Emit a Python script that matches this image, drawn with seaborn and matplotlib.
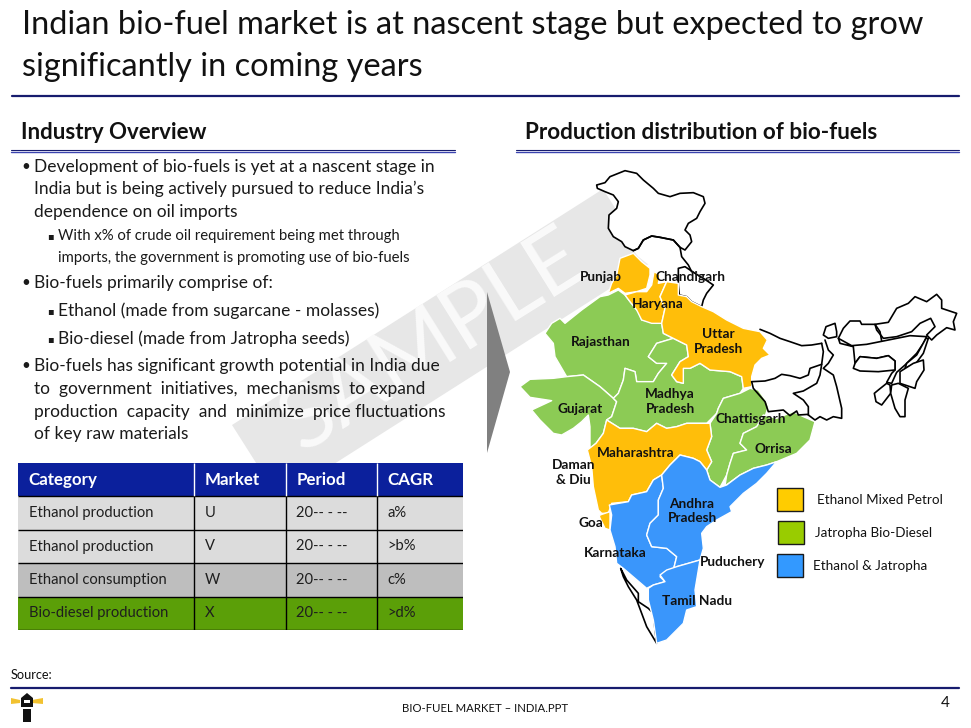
"""Bio-fuel slide: text panel, market table and production map of India."""

import numpy as np
import matplotlib
matplotlib.use("Agg")
import matplotlib.pyplot as plt
import seaborn as sns
from matplotlib.colors import ListedColormap
from matplotlib.patches import Polygon, Rectangle

# --- table ---
TABLE_HEADER = ["Category", "Market", "Period", "CAGR"]
TABLE_CATEGORY = ["Ethanol production", "Ethanol production", "Ethanol consumption", "Bio-diesel production"]
TABLE_MARKET = ["U", "V", "W", "X"]
TABLE_PERIOD = ["20-- - --", "20-- - --", "20-- - --", "20-- - --"]
TABLE_CAGR = ["a%", ">b%", "c%", ">d%"]
ROW_COLORS = ["#0B209C", "#DCDCDC", "#DCDCDC", "#BEBEBE", "#5B9F08"]

# --- map outlines (x right, y down) ---
JK = [(260,75),(285,68),(300,50),(320,42),(345,32),(380,40),(400,60),(430,85),(445,100),(480,110),(510,100),(550,98),(580,110),(585,130),(570,155),(560,175),(535,190),(525,210),(540,225),(545,245),(525,270),(510,262),(490,240),(450,232),(425,228),(400,240),(385,265),(370,272),(345,260),(335,245),(310,230),(295,205),(297,165),(320,145),(325,125),(310,105),(285,95),(262,85)]
HIMACHAL = [(370,272),(385,265),(400,240),(425,228),(450,232),(490,240),(510,262),(515,290),(535,315),(545,335),(505,325),(475,328),(460,335),(435,325),(410,310),(385,290)]
HIMACHAL_TOP = [(370,272),(385,265),(400,240),(425,228),(450,232),(490,240),(510,262),(515,290),(535,315),(545,335)]
UTTARAKHAND = [(505,325),(525,320),(555,340),(580,355),(610,375),(590,400),(580,420),(575,440),(545,425),(530,410),(508,405),(505,375)]
KERALA = [(332,1225),(350,1260),(385,1300),(385,1325),(415,1345),(430,1360),(435,1410),(440,1450),(410,1400),(395,1360),(380,1320),(355,1280),(340,1250)]

# north-east part, traced in a crop that starts at (690, 375) in map units
EAST_ORIGIN = (690, 375)
BIHAR_TOP = [(60,133),(90,145),(120,160),(150,170),(185,182),(215,180),(245,175)]
BIHAR_SOUTH = [(35,290),(75,288),(105,280),(125,268),(150,272),(180,280),(205,270),(210,250),(245,238)]
BENGAL_WEST = [(245,175),(250,200),(245,238),(240,270),(230,295),(190,318),(160,325),(190,345),(205,365),(205,390)]
JHARKHAND_SOUTH = [(35,290),(40,310),(75,350),(85,380),(130,375),(150,392),(170,378),(175,390),(205,388)]
BENGAL_EAST = [(255,165),(265,195),(280,210),(265,235),(250,250),(280,270),(290,305),(305,370),(305,400),(280,395),(260,405),(240,395),(225,405),(205,390)]
SIKKIM = [(250,150),(258,125),(285,115),(290,140),(290,155),(265,160)]
ARUNACHAL = [(405,118),(445,112),(470,70),(505,55),(525,35),(560,50),(590,28),(605,45),(605,70),(650,85),(640,110),(645,135),(620,128),(590,150),(575,165),(560,150),(585,125),(572,100),(540,115),(515,140),(470,155),(430,160),(410,135)]
BHUTAN_SIDE = [(295,160),(310,130),(330,108),(360,108),(365,118),(405,118),(420,140),(425,168)]
ASSAM = [(295,160),(335,182),(380,178),(430,168),(470,160),(510,152),(560,155),(550,175),(530,205),(495,240),(470,262),(455,295),(440,292),(455,265),(465,255),(465,228),(445,212),(410,220),(360,215),(345,235),(340,185),(300,175)]
MEGHALAYA = [(345,235),(360,215),(410,220),(445,212),(465,228),(465,255),(415,260),(360,258),(340,250)]
NAGALAND = [(500,235),(530,210),(558,160),(565,160),(550,205),(528,235),(495,250)]
MANIPUR = [(480,260),(520,235),(550,225),(552,255),(530,290),(525,310),(480,295)]
TRIPURA = [(415,315),(440,295),(450,300),(452,325),(425,360),(408,350),(403,325)]
MIZORAM = [(455,300),(475,295),(505,310),(495,345),(495,395),(480,395),(465,370),(452,325)]
EAST_STATES = [SIKKIM, ARUNACHAL, ASSAM, MEGHALAYA, NAGALAND, MANIPUR, TRIPURA, MIZORAM]
EAST_LINES = [BIHAR_TOP, BIHAR_SOUTH, BENGAL_WEST, JHARKHAND_SOUTH, BENGAL_EAST, BHUTAN_SIDE]
WHITE_STATES = [JK, UTTARAKHAND, KERALA]

PUNJAB = [(330,295),(370,280),(395,305),(420,325),(420,345),(410,385),(380,395),(345,400),(325,385),(295,400),(305,370),(320,345)]
HARYANA = [(345,405),(380,395),(410,395),(425,375),(432,335),(450,345),(445,370),(470,365),(450,410),(465,445),(455,490),(425,490),(395,480),(380,450),(360,425)]
UTTAR_PRADESH = [(470,365),(505,370),(505,405),(530,410),(545,425),(575,440),(610,455),(650,480),(700,505),(750,515),(772,540),(760,565),(780,585),(755,595),(735,615),(725,650),(725,680),(700,685),(695,650),(660,635),(600,630),(570,610),(540,625),(520,625),(520,670),(500,665),(485,645),(510,605),(535,590),(530,555),(490,535),(460,520),(455,490),(465,445),(450,410)]
MAHARASHTRA = [(290,780),(330,805),(370,805),(410,815),(440,790),(470,805),(500,800),(530,790),(600,790),(605,830),(590,870),(605,905),(590,930),(570,905),(550,895),(510,885),(480,915),(455,945),(430,960),(410,995),(365,1005),(355,1025),(305,1030),(295,1060),(275,1060),(265,1050),(250,980),(245,920),(232,870),(258,850),(280,820)]
GOA = [(270,1065),(300,1055),(300,1110),(285,1105),(268,1070)]

RAJASTHAN = [(105,520),(125,490),(150,475),(165,490),(215,450),(270,410),(295,405),(325,390),(345,405),(360,425),(385,455),(395,480),(455,490),(460,520),(490,535),(440,550),(415,590),(440,610),(470,610),(445,640),(430,665),(380,665),(375,635),(345,625),(340,660),(325,700),(310,715),(270,680),(220,645),(170,650),(135,590),(130,550)]
GUJARAT = [(30,680),(60,658),(130,655),(170,650),(220,645),(270,680),(310,715),(320,725),(305,770),(290,780),(280,820),(258,850),(240,865),(240,800),(235,765),(215,785),(190,805),(155,825),(130,820),(90,780),(65,750),(125,722),(60,712)]
MADHYA_PRADESH = [(310,715),(325,700),(340,660),(345,625),(375,635),(380,665),(430,665),(445,640),(470,610),(440,610),(415,590),(440,550),(490,535),(530,555),(535,590),(510,605),(485,645),(500,665),(520,670),(520,625),(540,625),(570,610),(600,630),(660,635),(695,650),(700,685),(690,700),(640,715),(625,745),(620,760),(590,790),(530,790),(500,800),(470,805),(440,790),(410,815),(370,805),(330,805),(290,780),(305,770),(320,725)]
CHATTISGARH = [(690,700),(720,685),(745,690),(770,725),(775,740),(765,770),(750,790),(740,800),(700,820),(690,850),(710,870),(670,880),(660,910),(650,945),(630,982),(600,960),(590,930),(605,905),(590,870),(605,830),(600,790),(620,760),(625,745),(640,715)]
ORISSA = [(760,765),(800,775),(850,755),(880,770),(915,785),(900,840),(860,880),(800,905),(770,915),(730,925),(690,945),(645,978),(650,945),(660,910),(670,880),(710,870),(690,850),(700,820),(740,800)]

KARNATAKA = [(298,1035),(355,1025),(365,1005),(410,995),(430,960),(455,945),(460,985),(445,1020),(445,1065),(420,1090),(410,1125),(425,1160),(470,1165),(500,1190),(490,1230),(470,1240),(450,1250),(465,1265),(430,1275),(410,1285),(340,1225),(320,1210),(315,1160),(300,1110),(305,1065)]
ANDHRA = [(455,945),(480,915),(510,885),(550,895),(570,905),(590,930),(600,960),(630,982),(650,975),(690,945),(730,925),(770,915),(800,905),(770,940),(740,970),(700,1000),(660,1040),(665,1055),(620,1080),(590,1100),(575,1120),(580,1165),(570,1200),(500,1220),(490,1230),(500,1190),(470,1165),(425,1160),(410,1125),(420,1090),(445,1065),(445,1020),(460,985)]
TAMIL_NADU = [(415,1285),(430,1275),(465,1265),(450,1245),(470,1230),(500,1220),(570,1200),(565,1230),(555,1290),(560,1340),(530,1350),(520,1390),(470,1440),(440,1450),(430,1380),(415,1320)]

ORANGE_STATES = [PUNJAB, HARYANA, UTTAR_PRADESH, MAHARASHTRA, GOA]
GREEN_STATES = [RAJASTHAN, GUJARAT, MADHYA_PRADESH, CHATTISGARH, ORISSA]
BLUE_STATES = [KARNATAKA, ANDHRA, TAMIL_NADU]

LEGEND_LABELS = ["Ethanol Mixed Petrol", "Jatropha Bio-Diesel", "Ethanol & Jatropha"]
STATE_NAMES = ["Punjab", "Chandigarh", "Haryana", "Uttar\nPradesh", "Rajasthan", "Madhya\nPradesh", "Gujarat", "Chattisgarh", "Orrisa", "Maharashtra", "Daman\n& Diu", "Goa", "Andhra\nPradesh", "Karnataka", "Puduchery", "Tamil Nadu"]
NAME_SPOTS = [(273,352),(540,352),(443,432),(625,545),(272,545),(480,725),(210,746),(722,778),(790,868),(378,878),(190,938),(243,1088),(546,1053),(315,1178),(667,1205),(562,1322)]

TITLE_LINES = ["Indian bio-fuel market is at nascent stage but expected to grow", "significantly in coming years"]
BODY_LINES = [
    "Development of bio-fuels is yet at a nascent stage in",
    "India but is being actively pursued to reduce India’s",
    "dependence on oil imports",
    "With x% of crude oil requirement being met through",
    "imports, the government is promoting use of bio-fuels",
    "Bio-fuels primarily comprise of:",
    "Ethanol (made from sugarcane - molasses)",
    "Bio-diesel (made from Jatropha seeds)",
    "Bio-fuels has significant growth potential in India due",
    "to  government  initiatives,  mechanisms  to expand",
    "production  capacity  and  minimize  price fluctuations",
    "of key raw materials",
]
BODY_Y = [167, 189, 212, 236, 258, 283, 311, 339, 366, 389, 412, 434]
BODY_X = [34, 34, 34, 58, 58, 34, 58, 58, 34, 34, 34, 34]
BODY_SIZE = [12.5, 12.5, 12.5, 10.7, 10.7, 12.5, 12.5, 12.5, 12.5, 12.5, 12.5, 12.5]

NAVY = "#171C6E"
ORANGE = "#FFBE0A"
GREEN = "#8CCB55"
BLUE = "#3A96FB"

sns.set_theme(style="white")
plt.rcParams["font.family"] = ["Lato", "DejaVu Sans"]

fig = plt.figure(figsize=(9.71, 7.28), dpi=100)
W, H = 971, 728


def pixel_axes(x0, y0, x1, y1):
    return fig.add_axes([x0 / W, 1 - y1 / H, (x1 - x0) / W, (y1 - y0) / H])


page = pixel_axes(0, 0, W, H)
page.set_xlim(0, W)
page.set_ylim(H, 0)
page.axis("off")

# watermark goes under everything else
page.add_patch(Polygon([(232, 425), (603, 189), (650, 263), (279, 499)], color="#E7E7E7", lw=0))
page.text(433, 342, "SAMPLE", rotation=32, fontsize=64, color="#FAFAFA", ha="center", va="center",
          rotation_mode="anchor")

# title and rules
page.text(22, 25, TITLE_LINES[0], fontsize=23.4, color="#111111", va="center")
page.text(22, 67, TITLE_LINES[1], fontsize=23.4, color="#111111", va="center")
page.plot([12, 959], [96, 96], color=NAVY, lw=1.6)
page.text(21, 132.5, "Industry Overview", fontsize=16, fontweight="bold", color="#111111", va="center")
page.text(525, 132.5, "Production distribution of bio-fuels", fontsize=16.2, fontweight="bold", color="#111111", va="center")
for x0, x1 in [(11, 455), (516, 959)]:
    page.plot([x0, x1], [149.5, 149.5], color=NAVY, lw=0.8)
    page.plot([x0, x1], [152, 152], color="#3B43B0", lw=1.0)

# body text
for text, x, y, size in zip(BODY_LINES, BODY_X, BODY_Y, BODY_SIZE):
    page.text(x, y, text, fontsize=size, color="#1A1A1A", va="center")
for y in [167, 283, 366]:
    page.text(21, y, "•", fontsize=11, color="#1A1A1A", va="center")
for y in [236, 311, 339]:
    page.text(47, y, "▪", fontsize=7, color="#1A1A1A", va="center", family="DejaVu Sans")

# chevron between the panels
page.add_patch(Polygon([(487, 292), (510, 372), (487, 453)], color="#808080", lw=0))

# table: row colours from a heatmap, column rules on top
TOP, BOTTOM, LEFT, RIGHT = 463, 630, 18, 463
tab = pixel_axes(LEFT, TOP, RIGHT, BOTTOM)
tab.patch.set_alpha(0)
sns.heatmap(np.arange(5).reshape(-1, 1), cmap=ListedColormap(ROW_COLORS), cbar=False, ax=tab,
            xticklabels=False, yticklabels=False, linewidths=0, vmin=-0.5, vmax=4.5)
col_edges = np.array([18, 194, 286, 377, 463])
col_frac = (col_edges - LEFT) / (RIGHT - LEFT)
tab.hlines(range(1, 6), 0, 1, colors="black", lw=1.0)
tab.vlines(col_frac[1:4], 0, 1, colors="white", lw=1.0)
tab.vlines(col_frac[1:4], 1, 5, colors="black", lw=1.0)
rows = [TABLE_HEADER] + [list(r) for r in zip(TABLE_CATEGORY, TABLE_MARKET, TABLE_PERIOD, TABLE_CAGR)]
for i, row in enumerate(rows):
    for j, cell in enumerate(row):
        tab.text(col_frac[j] + 10.5 / 445, i + 0.5, cell, va="center", ha="left",
                 fontsize=12.2 if i == 0 else 10.6, fontweight="bold" if i == 0 else "normal",
                 color="white" if i == 0 else "#1E1E1E")

# footer
page.text(11, 675, "Source:", fontsize=9.2, color="#111111", va="center")
page.plot([11, 959], [687.5, 687.5], color=NAVY, lw=1.6)
page.text(485, 709, "BIO-FUEL MARKET – INDIA.PPT", fontsize=8.2, color="#111111", ha="center", va="center")
page.text(945, 703, "4", fontsize=11, color="#111111", ha="center", va="center")
page.fill([11, 20, 20, 11], [698, 700, 703, 704], color="#F2C230", lw=0)
page.fill([32, 43, 43, 32], [700, 698, 704, 703], color="#F2C230", lw=0)
page.fill([21, 27, 33], [698, 693, 698], color="#111111", lw=0)
page.add_patch(Rectangle((21, 698), 12, 9, facecolor="#111111", lw=0))
page.add_patch(Rectangle((24, 700), 6, 3, facecolor="white", lw=0))
page.add_patch(Rectangle((23, 709), 8, 13, facecolor="#111111", lw=0))

# map, in its own traced units (3 units per pixel)
geo = pixel_axes(510, 160, 971, 660)
geo.set_xlim(0, 1383)
geo.set_ylim(1500, 0)
geo.axis("off")
geo.fill(*zip(*HIMACHAL), facecolor="white", lw=0)
for shape in WHITE_STATES:
    geo.fill(*zip(*shape), facecolor="white", edgecolor="black", lw=1.2, joinstyle="round")
geo.plot(*zip(*HIMACHAL_TOP), color="black", lw=1.2)
dx, dy = EAST_ORIGIN
for shape in EAST_STATES:
    xs, ys = zip(*shape)
    geo.fill(np.array(xs) + dx, np.array(ys) + dy, facecolor="white", edgecolor="black", lw=1.2, joinstyle="round")
for shape in EAST_LINES:
    xs, ys = zip(*shape)
    geo.plot(np.array(xs) + dx, np.array(ys) + dy, color="black", lw=1.2)
for states, color in [(GREEN_STATES, GREEN), (ORANGE_STATES, ORANGE), (BLUE_STATES, BLUE)]:
    for shape in states:
        geo.fill(*zip(*shape), facecolor=color, edgecolor="white", lw=1.0, joinstyle="round")
for name, (x, y) in zip(STATE_NAMES, NAME_SPOTS):
    geo.text(x, y, name, fontsize=9.8, fontweight="bold", color="#111111", ha="center", va="center", linespacing=1.3)

# legend
for label, color, x, y, tx in zip(LEGEND_LABELS, ["#FFCC00", "#99CC00", "#3399FF"], [800, 803, 800],
                                  [983, 1082, 1181], [920, 914, 910]):
    geo.add_patch(Rectangle((x, y), 80, 70, facecolor=color, edgecolor="#1A1A1A", lw=1.0))
    geo.text(tx, y + 38, label, fontsize=9.7, color="#111111", va="center")

fig.savefig("out.png", dpi=100)
